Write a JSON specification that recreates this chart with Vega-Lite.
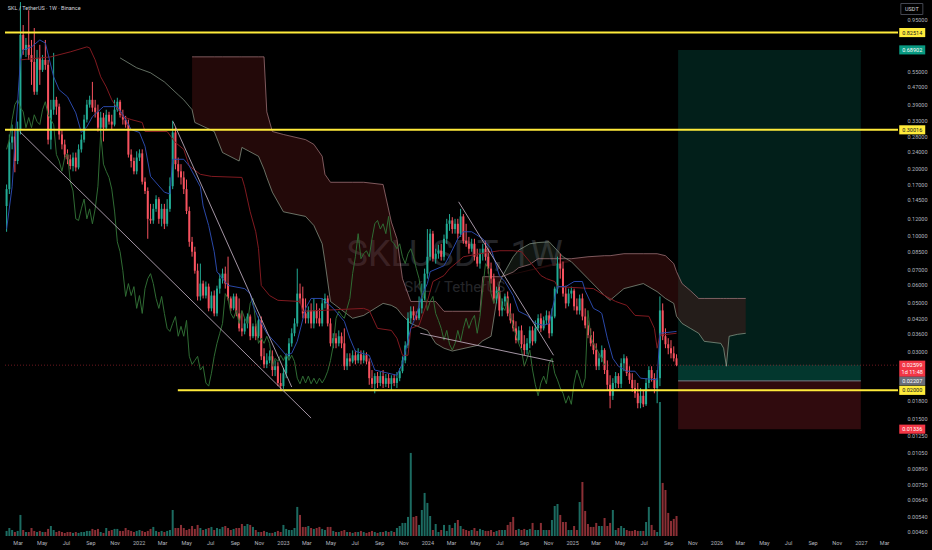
{
"$schema":"https://vega.github.io/schema/vega-lite/v6.json",
"width":903,"height":536,"autosize":{"type":"none"},
"padding":{"left":0,"top":0,"right":29,"bottom":14},
"background":"#000000",
"config":{"view":{"stroke":null},"font":"Roboto","axis":{"grid":false,"domain":false,"ticks":false,"labelColor":"#b2b5be","labelFontSize":5.5,"title":null}},
"datasets":{
"k":[
{"t":"2021-02-01","o":0.136,"h":0.17,"l":0.104,"c":0.162,"v":38,"ls":0.245},
{"t":"2021-02-08","o":0.162,"h":0.286,"l":0.154,"c":0.263,"v":60,"ls":0.271},
{"t":"2021-02-15","o":0.263,"h":0.317,"l":0.245,"c":0.28,"v":45,"ls":0.334},
{"t":"2021-02-22","o":0.28,"h":0.301,"l":0.193,"c":0.217,"v":30,"ls":0.39},
{"t":"2021-03-01","o":0.217,"h":0.327,"l":0.21,"c":0.301,"v":38,"ls":0.41},
{"t":"2021-03-08","o":0.301,"h":1.133,"l":0.286,"c":0.805,"v":158,"ls":0.378},
{"t":"2021-03-15","o":0.805,"h":0.892,"l":0.654,"c":0.689,"v":45,"ls":0.362},
{"t":"2021-03-22","o":0.689,"h":0.78,"l":0.64,"c":0.726,"v":30,"ls":0.307},
{"t":"2021-03-29","o":0.726,"h":1.04,"l":0.621,"c":0.654,"v":30,"ls":0.341},
{"t":"2021-04-05","o":0.654,"h":0.764,"l":0.479,"c":0.608,"v":60,"ls":0.307},
{"t":"2021-04-12","o":0.608,"h":0.865,"l":0.432,"c":0.446,"v":38,"ls":0.351},
{"t":"2021-04-19","o":0.446,"h":0.689,"l":0.432,"c":0.634,"v":30,"ls":0.327},
{"t":"2021-04-26","o":0.634,"h":0.726,"l":0.479,"c":0.56,"v":38,"ls":0.317},
{"t":"2021-05-03","o":0.56,"h":0.654,"l":0.548,"c":0.621,"v":30,"ls":0.37},
{"t":"2021-05-10","o":0.621,"h":0.764,"l":0.56,"c":0.59,"v":30,"ls":0.402},
{"t":"2021-05-17","o":0.59,"h":0.621,"l":0.258,"c":0.271,"v":53,"ls":0.351},
{"t":"2021-05-24","o":0.271,"h":0.41,"l":0.245,"c":0.37,"v":75,"ls":0.334},
{"t":"2021-05-31","o":0.37,"h":0.668,"l":0.351,"c":0.41,"v":45,"ls":0.317},
{"t":"2021-06-07","o":0.41,"h":0.423,"l":0.351,"c":0.382,"v":30,"ls":0.232},
{"t":"2021-06-14","o":0.382,"h":0.394,"l":0.271,"c":0.286,"v":38,"ls":0.217},
{"t":"2021-06-21","o":0.286,"h":0.301,"l":0.245,"c":0.258,"v":30,"ls":0.195},
{"t":"2021-06-28","o":0.258,"h":0.271,"l":0.221,"c":0.232,"v":23,"ls":0.225},
{"t":"2021-07-05","o":0.232,"h":0.245,"l":0.21,"c":0.221,"v":30,"ls":0.235},
{"t":"2021-07-12","o":0.221,"h":0.232,"l":0.199,"c":0.206,"v":30,"ls":0.175},
{"t":"2021-07-19","o":0.206,"h":0.237,"l":0.195,"c":0.225,"v":23,"ls":0.159},
{"t":"2021-07-26","o":0.225,"h":0.237,"l":0.195,"c":0.203,"v":30,"ls":0.119},
{"t":"2021-08-02","o":0.203,"h":0.258,"l":0.199,"c":0.245,"v":23,"ls":0.117},
{"t":"2021-08-09","o":0.245,"h":0.286,"l":0.237,"c":0.271,"v":30,"ls":0.132},
{"t":"2021-08-16","o":0.271,"h":0.351,"l":0.263,"c":0.334,"v":30,"ls":0.146},
{"t":"2021-08-23","o":0.334,"h":0.41,"l":0.324,"c":0.39,"v":38,"ls":0.119},
{"t":"2021-08-30","o":0.39,"h":0.428,"l":0.378,"c":0.41,"v":38,"ls":0.132},
{"t":"2021-09-06","o":0.41,"h":0.494,"l":0.362,"c":0.378,"v":53,"ls":0.113},
{"t":"2021-09-13","o":0.378,"h":0.41,"l":0.341,"c":0.362,"v":45,"ls":0.132},
{"t":"2021-09-20","o":0.362,"h":0.39,"l":0.295,"c":0.307,"v":53,"ls":0.167},
{"t":"2021-09-27","o":0.307,"h":0.362,"l":0.286,"c":0.341,"v":30,"ls":0.292},
{"t":"2021-10-04","o":0.341,"h":0.358,"l":0.266,"c":0.307,"v":23,"ls":0.21},
{"t":"2021-10-11","o":0.307,"h":0.37,"l":0.301,"c":0.351,"v":60,"ls":0.195},
{"t":"2021-10-18","o":0.351,"h":0.362,"l":0.317,"c":0.327,"v":38,"ls":0.183},
{"t":"2021-10-25","o":0.327,"h":0.351,"l":0.301,"c":0.317,"v":45,"ls":0.162},
{"t":"2021-11-01","o":0.317,"h":0.41,"l":0.311,"c":0.37,"v":53,"ls":0.129},
{"t":"2021-11-08","o":0.37,"h":0.419,"l":0.362,"c":0.402,"v":53,"ls":0.0937},
{"t":"2021-11-15","o":0.402,"h":0.41,"l":0.341,"c":0.351,"v":38,"ls":0.0845},
{"t":"2021-11-22","o":0.351,"h":0.37,"l":0.317,"c":0.334,"v":38,"ls":0.0694},
{"t":"2021-11-29","o":0.334,"h":0.347,"l":0.307,"c":0.317,"v":60,"ls":0.0531},
{"t":"2021-12-06","o":0.317,"h":0.334,"l":0.225,"c":0.232,"v":45,"ls":0.0607},
{"t":"2021-12-13","o":0.232,"h":0.245,"l":0.203,"c":0.217,"v":38,"ls":0.0536},
{"t":"2021-12-20","o":0.217,"h":0.225,"l":0.189,"c":0.195,"v":30,"ls":0.0588},
{"t":"2021-12-27","o":0.195,"h":0.24,"l":0.189,"c":0.225,"v":38,"ls":0.0469},
{"t":"2022-01-03","o":0.225,"h":0.245,"l":0.217,"c":0.235,"v":45,"ls":0.0536},
{"t":"2022-01-10","o":0.235,"h":0.245,"l":0.17,"c":0.175,"v":38,"ls":0.0445},
{"t":"2022-01-17","o":0.175,"h":0.183,"l":0.154,"c":0.159,"v":30,"ls":0.0576},
{"t":"2022-01-24","o":0.159,"h":0.165,"l":0.0967,"c":0.119,"v":38,"ls":0.0639},
{"t":"2022-01-31","o":0.119,"h":0.139,"l":0.113,"c":0.117,"v":53,"ls":0.0673},
{"t":"2022-02-07","o":0.117,"h":0.139,"l":0.113,"c":0.132,"v":68,"ls":0.0607},
{"t":"2022-02-14","o":0.132,"h":0.152,"l":0.128,"c":0.146,"v":38,"ls":0.052},
{"t":"2022-02-21","o":0.146,"h":0.149,"l":0.113,"c":0.119,"v":30,"ls":0.0469},
{"t":"2022-02-28","o":0.119,"h":0.139,"l":0.11,"c":0.132,"v":38,"ls":0.0531},
{"t":"2022-03-07","o":0.132,"h":0.139,"l":0.107,"c":0.113,"v":30,"ls":0.0445},
{"t":"2022-03-14","o":0.113,"h":0.146,"l":0.11,"c":0.132,"v":38,"ls":0.0381},
{"t":"2022-03-21","o":0.132,"h":0.183,"l":0.128,"c":0.167,"v":45,"ls":0.0369},
{"t":"2022-03-28","o":0.167,"h":0.33,"l":0.162,"c":0.292,"v":195,"ls":0.0401},
{"t":"2022-04-04","o":0.292,"h":0.307,"l":0.199,"c":0.21,"v":60,"ls":0.0431},
{"t":"2022-04-11","o":0.21,"h":0.225,"l":0.183,"c":0.195,"v":60,"ls":0.0351},
{"t":"2022-04-18","o":0.195,"h":0.21,"l":0.17,"c":0.183,"v":83,"ls":0.0389},
{"t":"2022-04-25","o":0.183,"h":0.195,"l":0.154,"c":0.162,"v":60,"ls":0.0351},
{"t":"2022-05-02","o":0.162,"h":0.179,"l":0.125,"c":0.129,"v":45,"ls":0.0414},
{"t":"2022-05-09","o":0.129,"h":0.135,"l":0.089,"c":0.0937,"v":53,"ls":0.0285},
{"t":"2022-05-16","o":0.0937,"h":0.0986,"l":0.0803,"c":0.0845,"v":75,"ls":0.0262},
{"t":"2022-05-23","o":0.0845,"h":0.089,"l":0.0673,"c":0.0694,"v":53,"ls":0.0273},
{"t":"2022-05-30","o":0.0694,"h":0.0747,"l":0.0509,"c":0.0531,"v":83,"ls":0.0285},
{"t":"2022-06-06","o":0.0531,"h":0.0747,"l":0.0509,"c":0.0607,"v":60,"ls":0.0247},
{"t":"2022-06-13","o":0.0607,"h":0.0626,"l":0.052,"c":0.0536,"v":45,"ls":0.0257},
{"t":"2022-06-20","o":0.0536,"h":0.062,"l":0.052,"c":0.0588,"v":53,"ls":0.0216},
{"t":"2022-06-27","o":0.0588,"h":0.0607,"l":0.0455,"c":0.0469,"v":60,"ls":0.0209},
{"t":"2022-07-04","o":0.0469,"h":0.0559,"l":0.0455,"c":0.0536,"v":68,"ls":0.0239},
{"t":"2022-07-11","o":0.0536,"h":0.0565,"l":0.0432,"c":0.0445,"v":45,"ls":0.0285},
{"t":"2022-07-18","o":0.0445,"h":0.0594,"l":0.0432,"c":0.0576,"v":60,"ls":0.0326},
{"t":"2022-07-25","o":0.0576,"h":0.0673,"l":0.0547,"c":0.0639,"v":53,"ls":0.0362},
{"t":"2022-08-01","o":0.0639,"h":0.0709,"l":0.0607,"c":0.0673,"v":68,"ls":0.0401},
{"t":"2022-08-08","o":0.0673,"h":0.0724,"l":0.0576,"c":0.0607,"v":75,"ls":0.0547},
{"t":"2022-08-15","o":0.0607,"h":0.0803,"l":0.0509,"c":0.052,"v":60,"ls":0.052},
{"t":"2022-08-22","o":0.052,"h":0.0531,"l":0.0455,"c":0.0469,"v":45,"ls":0.0445},
{"t":"2022-08-29","o":0.0469,"h":0.0547,"l":0.046,"c":0.0531,"v":53,"ls":0.0423},
{"t":"2022-09-05","o":0.0531,"h":0.0547,"l":0.0432,"c":0.0445,"v":60,"ls":0.0459},
{"t":"2022-09-12","o":0.0445,"h":0.052,"l":0.0369,"c":0.0381,"v":60,"ls":0.0401},
{"t":"2022-09-19","o":0.0381,"h":0.0454,"l":0.0351,"c":0.0369,"v":90,"ls":0.0459},
{"t":"2022-09-26","o":0.0369,"h":0.0423,"l":0.0358,"c":0.0401,"v":75,"ls":0.0423},
{"t":"2022-10-03","o":0.0401,"h":0.0445,"l":0.0381,"c":0.0431,"v":90,"ls":0.0401},
{"t":"2022-10-10","o":0.0431,"h":0.044,"l":0.0337,"c":0.0351,"v":83,"ls":0.0494},
{"t":"2022-10-17","o":0.0351,"h":0.0401,"l":0.0344,"c":0.0389,"v":68,"ls":0.052},
{"t":"2022-10-24","o":0.0389,"h":0.0401,"l":0.0337,"c":0.0351,"v":45,"ls":0.0401},
{"t":"2022-10-31","o":0.0351,"h":0.0431,"l":0.0344,"c":0.0414,"v":30,"ls":0.0326},
{"t":"2022-11-07","o":0.0414,"h":0.0431,"l":0.0274,"c":0.0285,"v":30,"ls":0.0344},
{"t":"2022-11-14","o":0.0285,"h":0.031,"l":0.0252,"c":0.0262,"v":38,"ls":0.0326},
{"t":"2022-11-21","o":0.0262,"h":0.0294,"l":0.0252,"c":0.0273,"v":30,"ls":0.0351},
{"t":"2022-11-28","o":0.0273,"h":0.0303,"l":0.0265,"c":0.0285,"v":23,"ls":0.0326},
{"t":"2022-12-05","o":0.0285,"h":0.0303,"l":0.0232,"c":0.0247,"v":23,"ls":0.0257},
{"t":"2022-12-12","o":0.0247,"h":0.0273,"l":0.0232,"c":0.0257,"v":30,"ls":0.0279},
{"t":"2022-12-19","o":0.0257,"h":0.0268,"l":0.0209,"c":0.0216,"v":38,"ls":0.027},
{"t":"2022-12-26","o":0.0216,"h":0.0239,"l":0.0201,"c":0.0209,"v":30,"ls":0.0288},
{"t":"2023-01-02","o":0.0209,"h":0.0252,"l":0.0203,"c":0.0239,"v":83,"ls":0.0273},
{"t":"2023-01-09","o":0.0239,"h":0.0294,"l":0.0227,"c":0.0285,"v":53,"ls":0.0291},
{"t":"2023-01-16","o":0.0285,"h":0.0344,"l":0.0274,"c":0.0326,"v":45,"ls":0.0273},
{"t":"2023-01-23","o":0.0326,"h":0.0381,"l":0.0315,"c":0.0362,"v":45,"ls":0.0288},
{"t":"2023-01-30","o":0.0362,"h":0.0423,"l":0.0351,"c":0.0401,"v":60,"ls":0.027},
{"t":"2023-02-06","o":0.0401,"h":0.0709,"l":0.0388,"c":0.0547,"v":218,"ls":0.0227},
{"t":"2023-02-13","o":0.0547,"h":0.0607,"l":0.0494,"c":0.052,"v":158,"ls":0.0214},
{"t":"2023-02-20","o":0.052,"h":0.0588,"l":0.0423,"c":0.0445,"v":68,"ls":0.0232},
{"t":"2023-02-27","o":0.0445,"h":0.052,"l":0.0401,"c":0.0423,"v":68,"ls":0.0216},
{"t":"2023-03-06","o":0.0423,"h":0.0479,"l":0.0401,"c":0.0459,"v":75,"ls":0.0232},
{"t":"2023-03-13","o":0.0459,"h":0.0494,"l":0.0381,"c":0.0401,"v":60,"ls":0.0214},
{"t":"2023-03-20","o":0.0401,"h":0.052,"l":0.0381,"c":0.0459,"v":53,"ls":0.0227},
{"t":"2023-03-27","o":0.0459,"h":0.0494,"l":0.0401,"c":0.0423,"v":60,"ls":0.0214},
{"t":"2023-04-03","o":0.0423,"h":0.0469,"l":0.0389,"c":0.0401,"v":68,"ls":0.0227},
{"t":"2023-04-10","o":0.0401,"h":0.052,"l":0.0389,"c":0.0494,"v":53,"ls":0.0216},
{"t":"2023-04-17","o":0.0494,"h":0.0547,"l":0.0469,"c":0.052,"v":45,"ls":0.0227},
{"t":"2023-04-24","o":0.052,"h":0.0536,"l":0.0389,"c":0.0401,"v":68,"ls":0.0244},
{"t":"2023-05-01","o":0.0401,"h":0.0423,"l":0.0316,"c":0.0326,"v":68,"ls":0.0273},
{"t":"2023-05-08","o":0.0326,"h":0.0362,"l":0.031,"c":0.0344,"v":38,"ls":0.0319},
{"t":"2023-05-15","o":0.0344,"h":0.0362,"l":0.031,"c":0.0326,"v":30,"ls":0.0423},
{"t":"2023-05-22","o":0.0326,"h":0.0373,"l":0.0316,"c":0.0351,"v":30,"ls":0.0455},
{"t":"2023-05-29","o":0.0351,"h":0.0365,"l":0.031,"c":0.0326,"v":38,"ls":0.0436},
{"t":"2023-06-05","o":0.0326,"h":0.0381,"l":0.0247,"c":0.0257,"v":45,"ls":0.0423},
{"t":"2023-06-12","o":0.0257,"h":0.0294,"l":0.0247,"c":0.0279,"v":30,"ls":0.0469},
{"t":"2023-06-19","o":0.0279,"h":0.0294,"l":0.0257,"c":0.027,"v":30,"ls":0.052},
{"t":"2023-06-26","o":0.027,"h":0.0303,"l":0.0265,"c":0.0288,"v":23,"ls":0.0673},
{"t":"2023-07-03","o":0.0288,"h":0.0303,"l":0.0262,"c":0.0273,"v":30,"ls":0.0802},
{"t":"2023-07-10","o":0.0273,"h":0.031,"l":0.0265,"c":0.0291,"v":30,"ls":0.102},
{"t":"2023-07-17","o":0.0291,"h":0.0303,"l":0.0262,"c":0.0273,"v":38,"ls":0.0786},
{"t":"2023-07-24","o":0.0273,"h":0.0303,"l":0.0265,"c":0.0288,"v":30,"ls":0.0828},
{"t":"2023-07-31","o":0.0288,"h":0.0297,"l":0.0262,"c":0.027,"v":23,"ls":0.0854},
{"t":"2023-08-07","o":0.027,"h":0.0279,"l":0.0212,"c":0.0227,"v":30,"ls":0.0802},
{"t":"2023-08-14","o":0.0227,"h":0.0247,"l":0.0205,"c":0.0214,"v":38,"ls":0.0967},
{"t":"2023-08-21","o":0.0214,"h":0.0239,"l":0.0194,"c":0.0232,"v":30,"ls":0.113},
{"t":"2023-08-28","o":0.0232,"h":0.0242,"l":0.0205,"c":0.0216,"v":23,"ls":0.117},
{"t":"2023-09-04","o":0.0216,"h":0.0242,"l":0.0209,"c":0.0232,"v":30,"ls":0.107},
{"t":"2023-09-11","o":0.0232,"h":0.0247,"l":0.0205,"c":0.0214,"v":30,"ls":0.113},
{"t":"2023-09-18","o":0.0214,"h":0.0237,"l":0.0207,"c":0.0227,"v":38,"ls":0.102},
{"t":"2023-09-25","o":0.0227,"h":0.0237,"l":0.0205,"c":0.0214,"v":30,"ls":0.122},
{"t":"2023-10-02","o":0.0214,"h":0.0234,"l":0.0201,"c":0.0227,"v":38,"ls":0.0947},
{"t":"2023-10-09","o":0.0227,"h":0.0237,"l":0.0209,"c":0.0216,"v":30,"ls":0.0918},
{"t":"2023-10-16","o":0.0216,"h":0.0242,"l":0.0205,"c":0.0227,"v":60,"ls":0.0872},
{"t":"2023-10-23","o":0.0227,"h":0.0252,"l":0.022,"c":0.0244,"v":75,"ls":0.0918},
{"t":"2023-10-30","o":0.0244,"h":0.0285,"l":0.0239,"c":0.0273,"v":98,"ls":0.0802},
{"t":"2023-11-06","o":0.0273,"h":0.0333,"l":0.0265,"c":0.0319,"v":98,"ls":0.0747},
{"t":"2023-11-13","o":0.0319,"h":0.045,"l":0.031,"c":0.0423,"v":143,"ls":0.0828},
{"t":"2023-11-20","o":0.0423,"h":0.0479,"l":0.0401,"c":0.0455,"v":623,"ls":0.0872},
{"t":"2023-11-27","o":0.0455,"h":0.0479,"l":0.0415,"c":0.0436,"v":143,"ls":0.0802},
{"t":"2023-12-04","o":0.0436,"h":0.0455,"l":0.0415,"c":0.0423,"v":150,"ls":0.0709},
{"t":"2023-12-11","o":0.0423,"h":0.0531,"l":0.0415,"c":0.0469,"v":83,"ls":0.0639},
{"t":"2023-12-18","o":0.0469,"h":0.0607,"l":0.0445,"c":0.052,"v":195,"ls":0.052},
{"t":"2023-12-25","o":0.052,"h":0.0709,"l":0.0509,"c":0.0673,"v":323,"ls":0.0564},
{"t":"2024-01-01","o":0.0673,"h":0.107,"l":0.0639,"c":0.0802,"v":248,"ls":0.0459},
{"t":"2024-01-08","o":0.0802,"h":0.107,"l":0.0771,"c":0.102,"v":150,"ls":0.0504},
{"t":"2024-01-15","o":0.102,"h":0.105,"l":0.0763,"c":0.0786,"v":45,"ls":0.0531},
{"t":"2024-01-22","o":0.0786,"h":0.0872,"l":0.0747,"c":0.0828,"v":90,"ls":0.0445},
{"t":"2024-01-29","o":0.0828,"h":0.0908,"l":0.0786,"c":0.0854,"v":30,"ls":0.0414},
{"t":"2024-02-05","o":0.0854,"h":0.0918,"l":0.0771,"c":0.0802,"v":45,"ls":0.0381},
{"t":"2024-02-12","o":0.0802,"h":0.101,"l":0.0771,"c":0.0967,"v":83,"ls":0.0337},
{"t":"2024-02-19","o":0.0967,"h":0.119,"l":0.0918,"c":0.113,"v":38,"ls":0.0373},
{"t":"2024-02-26","o":0.113,"h":0.125,"l":0.105,"c":0.117,"v":83,"ls":0.0323},
{"t":"2024-03-04","o":0.117,"h":0.121,"l":0.102,"c":0.107,"v":60,"ls":0.0304},
{"t":"2024-03-11","o":0.107,"h":0.119,"l":0.102,"c":0.113,"v":98,"ls":0.0326},
{"t":"2024-03-18","o":0.113,"h":0.119,"l":0.0967,"c":0.102,"v":120,"ls":0.0373},
{"t":"2024-03-25","o":0.102,"h":0.132,"l":0.0986,"c":0.122,"v":75,"ls":0.0333},
{"t":"2024-04-01","o":0.122,"h":0.125,"l":0.0918,"c":0.0947,"v":53,"ls":0.0381},
{"t":"2024-04-08","o":0.0947,"h":0.113,"l":0.089,"c":0.0918,"v":45,"ls":0.0423},
{"t":"2024-04-15","o":0.0918,"h":0.0986,"l":0.0828,"c":0.0872,"v":38,"ls":0.0381},
{"t":"2024-04-22","o":0.0872,"h":0.0967,"l":0.0845,"c":0.0918,"v":45,"ls":0.0414},
{"t":"2024-04-29","o":0.0918,"h":0.0967,"l":0.0771,"c":0.0802,"v":60,"ls":0.0436},
{"t":"2024-05-06","o":0.0802,"h":0.0872,"l":0.0724,"c":0.0747,"v":38,"ls":0.0362},
{"t":"2024-05-13","o":0.0747,"h":0.0872,"l":0.0709,"c":0.0828,"v":53,"ls":0.0431},
{"t":"2024-05-20","o":0.0828,"h":0.0918,"l":0.0771,"c":0.0872,"v":45,"ls":0.0576},
{"t":"2024-05-27","o":0.0872,"h":0.0947,"l":0.0771,"c":0.0802,"v":38,"ls":0.0747},
{"t":"2024-06-03","o":0.0802,"h":0.0872,"l":0.0673,"c":0.0709,"v":38,"ls":0.0709},
{"t":"2024-06-10","o":0.0709,"h":0.0755,"l":0.0607,"c":0.0639,"v":45,"ls":0.0547},
{"t":"2024-06-17","o":0.0639,"h":0.0673,"l":0.0494,"c":0.052,"v":30,"ls":0.0494},
{"t":"2024-06-24","o":0.052,"h":0.0588,"l":0.0494,"c":0.0564,"v":38,"ls":0.0547},
{"t":"2024-07-01","o":0.0564,"h":0.0588,"l":0.0432,"c":0.0459,"v":45,"ls":0.0564},
{"t":"2024-07-08","o":0.0459,"h":0.052,"l":0.0432,"c":0.0504,"v":45,"ls":0.0479},
{"t":"2024-07-15","o":0.0504,"h":0.0547,"l":0.0479,"c":0.0531,"v":45,"ls":0.0459},
{"t":"2024-07-22","o":0.0531,"h":0.0559,"l":0.0432,"c":0.0445,"v":83,"ls":0.052},
{"t":"2024-07-29","o":0.0445,"h":0.0494,"l":0.0401,"c":0.0414,"v":105,"ls":0.0431},
{"t":"2024-08-05","o":0.0414,"h":0.0445,"l":0.0369,"c":0.0381,"v":143,"ls":0.0393},
{"t":"2024-08-12","o":0.0381,"h":0.041,"l":0.0326,"c":0.0337,"v":45,"ls":0.0355},
{"t":"2024-08-19","o":0.0337,"h":0.0389,"l":0.0326,"c":0.0373,"v":53,"ls":0.0326},
{"t":"2024-08-26","o":0.0373,"h":0.0393,"l":0.031,"c":0.0323,"v":45,"ls":0.0304},
{"t":"2024-09-02","o":0.0323,"h":0.0355,"l":0.0288,"c":0.0304,"v":53,"ls":0.0257},
{"t":"2024-09-09","o":0.0304,"h":0.0344,"l":0.0291,"c":0.0326,"v":45,"ls":0.0279},
{"t":"2024-09-16","o":0.0326,"h":0.0389,"l":0.031,"c":0.0373,"v":53,"ls":0.0304},
{"t":"2024-09-23","o":0.0373,"h":0.0389,"l":0.0319,"c":0.0333,"v":98,"ls":0.0247},
{"t":"2024-09-30","o":0.0333,"h":0.0414,"l":0.0326,"c":0.0381,"v":45,"ls":0.0212},
{"t":"2024-10-07","o":0.0381,"h":0.0441,"l":0.0373,"c":0.0423,"v":45,"ls":0.0189},
{"t":"2024-10-14","o":0.0423,"h":0.0445,"l":0.0366,"c":0.0381,"v":98,"ls":0.0216},
{"t":"2024-10-21","o":0.0381,"h":0.0431,"l":0.0373,"c":0.0414,"v":45,"ls":0.0232},
{"t":"2024-10-28","o":0.0414,"h":0.0459,"l":0.0397,"c":0.0436,"v":45,"ls":0.0214},
{"t":"2024-11-04","o":0.0436,"h":0.0455,"l":0.0344,"c":0.0362,"v":45,"ls":0.0265},
{"t":"2024-11-11","o":0.0362,"h":0.0469,"l":0.0351,"c":0.0431,"v":120,"ls":0.0279},
{"t":"2024-11-18","o":0.0431,"h":0.0588,"l":0.0423,"c":0.0576,"v":225,"ls":0.0239},
{"t":"2024-11-25","o":0.0576,"h":0.0803,"l":0.0547,"c":0.0747,"v":240,"ls":0.0223},
{"t":"2024-12-02","o":0.0747,"h":0.0828,"l":0.0639,"c":0.0709,"v":158,"ls":0.0205},
{"t":"2024-12-09","o":0.0709,"h":0.0763,"l":0.053,"c":0.0547,"v":105,"ls":0.0194},
{"t":"2024-12-16","o":0.0547,"h":0.0594,"l":0.0469,"c":0.0494,"v":105,"ls":0.0175},
{"t":"2024-12-23","o":0.0494,"h":0.0576,"l":0.0479,"c":0.0547,"v":45,"ls":0.0189},
{"t":"2024-12-30","o":0.0547,"h":0.0588,"l":0.052,"c":0.0564,"v":45,"ls":0.0173},
{"t":"2025-01-06","o":0.0564,"h":0.0576,"l":0.0459,"c":0.0479,"v":75,"ls":0.0216},
{"t":"2025-01-13","o":0.0479,"h":0.052,"l":0.044,"c":0.0459,"v":45,"ls":0.0247},
{"t":"2025-01-20","o":0.0459,"h":0.0541,"l":0.044,"c":0.052,"v":255,"ls":0.0227},
{"t":"2025-01-27","o":0.052,"h":0.0547,"l":0.0414,"c":0.0431,"v":405,"ls":0.0205},
{"t":"2025-02-03","o":0.0431,"h":0.0469,"l":0.0381,"c":0.0393,"v":188,"ls":0.0227},
{"t":"2025-02-10","o":0.0393,"h":0.0414,"l":0.0344,"c":0.0355,"v":90,"ls":0.0459},
{"t":"2025-02-17","o":0.0355,"h":0.0381,"l":0.0316,"c":0.0326,"v":68,"ls":0.0351},
{"t":"2025-02-24","o":0.0326,"h":0.0369,"l":0.0291,"c":0.0304,"v":68,"ls":0.0323},
{"t":"2025-03-03","o":0.0304,"h":0.0326,"l":0.0247,"c":0.0257,"v":98,"ls":0.031},
{"t":"2025-03-10","o":0.0257,"h":0.0294,"l":0.0247,"c":0.0279,"v":75,"ls":0.0294},
{"t":"2025-03-17","o":0.0279,"h":0.0319,"l":0.0268,"c":0.0304,"v":75,"ls":0.0279},
{"t":"2025-03-24","o":0.0304,"h":0.031,"l":0.0237,"c":0.0247,"v":135,"ls":0.026},
{"t":"2025-03-31","o":0.0247,"h":0.0273,"l":0.0201,"c":0.0212,"v":75},
{"t":"2025-04-07","o":0.0212,"h":0.0234,"l":0.0166,"c":0.0189,"v":98},
{"t":"2025-04-14","o":0.0189,"h":0.0227,"l":0.0181,"c":0.0216,"v":195},
{"t":"2025-04-21","o":0.0216,"h":0.0242,"l":0.0205,"c":0.0232,"v":45},
{"t":"2025-04-28","o":0.0232,"h":0.0239,"l":0.0205,"c":0.0214,"v":60},
{"t":"2025-05-05","o":0.0214,"h":0.0279,"l":0.0205,"c":0.0265,"v":75},
{"t":"2025-05-12","o":0.0265,"h":0.0291,"l":0.0244,"c":0.0279,"v":60},
{"t":"2025-05-19","o":0.0279,"h":0.0285,"l":0.0232,"c":0.0239,"v":45},
{"t":"2025-05-26","o":0.0239,"h":0.0257,"l":0.0214,"c":0.0223,"v":38},
{"t":"2025-06-02","o":0.0223,"h":0.0239,"l":0.0197,"c":0.0205,"v":38},
{"t":"2025-06-09","o":0.0205,"h":0.0223,"l":0.0185,"c":0.0194,"v":45},
{"t":"2025-06-16","o":0.0194,"h":0.0216,"l":0.0166,"c":0.0175,"v":38},
{"t":"2025-06-23","o":0.0175,"h":0.0205,"l":0.0166,"c":0.0189,"v":38},
{"t":"2025-06-30","o":0.0189,"h":0.0201,"l":0.0168,"c":0.0173,"v":38},
{"t":"2025-07-07","o":0.0173,"h":0.0227,"l":0.017,"c":0.0216,"v":105},
{"t":"2025-07-14","o":0.0216,"h":0.0257,"l":0.0205,"c":0.0247,"v":218},
{"t":"2025-07-21","o":0.0247,"h":0.0257,"l":0.0219,"c":0.0227,"v":83},
{"t":"2025-07-28","o":0.0227,"h":0.0239,"l":0.0194,"c":0.0205,"v":45},
{"t":"2025-08-04","o":0.0205,"h":0.0247,"l":0.0175,"c":0.0227,"v":30},
{"t":"2025-08-11","o":0.0227,"h":0.0531,"l":0.0209,"c":0.0459,"v":1005},
{"t":"2025-08-18","o":0.0459,"h":0.0494,"l":0.0337,"c":0.0351,"v":398},
{"t":"2025-08-25","o":0.0351,"h":0.0381,"l":0.031,"c":0.0323,"v":345},
{"t":"2025-09-01","o":0.0323,"h":0.0344,"l":0.0291,"c":0.031,"v":173},
{"t":"2025-09-08","o":0.031,"h":0.0337,"l":0.0279,"c":0.0294,"v":113},
{"t":"2025-09-15","o":0.0294,"h":0.0316,"l":0.027,"c":0.0279,"v":128},
{"t":"2025-09-22","o":0.0279,"h":0.0291,"l":0.0257,"c":0.026,"v":150}
],
"cl":[
{"t":"2021-11-15","a":0.634},{"t":"2021-12-27","a":0.572},{"t":"2022-01-31","a":0.543},{"t":"2022-03-07","a":0.494},{"t":"2022-04-11","a":0.432},{"t":"2022-04-25","a":0.41},
{"t":"2022-05-16","a":0.37,"b":0.641},{"t":"2022-05-23","a":0.324,"b":0.641},{"t":"2022-07-11","a":0.295,"b":0.641},{"t":"2022-08-01","a":0.237,"b":0.641},{"t":"2022-09-12","a":0.217,"b":0.641},{"t":"2022-09-19","a":0.25,"b":0.641},{"t":"2022-10-31","a":0.228,"b":0.641},{"t":"2022-11-14","a":0.199,"b":0.641},{"t":"2022-11-21","a":0.183,"b":0.362},{"t":"2022-12-05","a":0.157,"b":0.295},
{"t":"2023-01-02","a":0.128,"b":0.286},{"t":"2023-02-27","a":0.122,"b":0.271},{"t":"2023-03-20","a":0.111,"b":0.258},{"t":"2023-04-10","a":0.0918,"b":0.228},{"t":"2023-04-17","a":0.0762,"b":0.189},{"t":"2023-05-01","a":0.0504,"b":0.174},{"t":"2023-06-26","a":0.0423,"b":0.174},{"t":"2023-07-24","a":0.0436,"b":0.174},{"t":"2023-09-11","a":0.0494,"b":0.17},{"t":"2023-10-02","a":0.0484,"b":0.115},{"t":"2023-10-16","a":0.0469,"b":0.0967},{"t":"2023-10-30","a":0.0436,"b":0.0639},{"t":"2023-11-20","a":0.0401,"b":0.0504},
{"t":"2024-01-01","a":0.0373,"b":0.0504},{"t":"2024-01-22","a":0.0326,"b":0.0504},{"t":"2024-02-12","a":0.031,"b":0.0455},{"t":"2024-03-04","a":0.0301,"b":0.0455},{"t":"2024-05-06","a":0.0319,"b":0.0455},{"t":"2024-05-13","a":0.0326,"b":0.0455},{"t":"2024-05-20","a":0.0335,"b":0.0652},{"t":"2024-06-10","a":0.0351,"b":0.0652},{"t":"2024-07-01","a":0.0607,"b":0.0652},{"t":"2024-07-08","a":0.0652,"b":0.0652},{"t":"2024-08-05","a":0.0802,"b":0.0684},{"t":"2024-08-19","a":0.086,"b":0.0716},{"t":"2024-09-16","a":0.0918,"b":0.074},{"t":"2024-10-07","a":0.093,"b":0.0786},{"t":"2024-11-04","a":0.0937,"b":0.0786},{"t":"2024-11-25","a":0.0854,"b":0.0786},{"t":"2024-12-09","a":0.0802,"b":0.0786},{"t":"2024-12-30","a":0.0762,"b":0.0786},
{"t":"2025-02-10","a":0.0639,"b":0.0802},{"t":"2025-03-24","a":0.0536,"b":0.0811},{"t":"2025-04-07","a":0.051,"b":0.0811},{"t":"2025-05-12","a":0.0576,"b":0.0828},{"t":"2025-06-30","a":0.0607,"b":0.0828},{"t":"2025-08-04","a":0.0558,"b":0.0828},{"t":"2025-08-25","a":0.052,"b":0.0811},{"t":"2025-09-15","a":0.0494,"b":0.0747},{"t":"2025-09-22","a":0.0432,"b":0.0687},{"t":"2025-10-06","a":0.0401,"b":0.0607},{"t":"2025-10-27","a":0.0381,"b":0.0564},{"t":"2025-11-17","a":0.0362,"b":0.052},{"t":"2025-12-01","a":0.0333,"b":0.052},
{"t":"2026-01-12","a":0.0326,"b":0.052},{"t":"2026-01-19","a":0.031,"b":0.052},{"t":"2026-01-26","a":0.0257,"b":0.052},{"t":"2026-02-02","a":0.0351,"b":0.052},{"t":"2026-02-23","a":0.0358,"b":0.052},{"t":"2026-03-16","a":0.0362,"b":0.052}
],
"cv":[
{"t":"2021-02-01","p":0.107},{"t":"2021-02-15","p":0.166},{"t":"2021-03-08","p":0.621},{"t":"2021-03-15","p":0.689},{"t":"2021-04-05","p":0.711},{"t":"2021-04-26","p":0.764},{"t":"2021-05-10","p":0.74},{"t":"2021-05-31","p":0.521},{"t":"2021-06-14","p":0.455},{"t":"2021-07-05","p":0.423},{"t":"2021-07-26","p":0.358},{"t":"2021-08-09","p":0.292},{"t":"2021-08-23","p":0.31},{"t":"2021-09-06","p":0.344},{"t":"2021-10-04","p":0.382},{"t":"2021-11-08","p":0.382},{"t":"2021-11-22","p":0.351},{"t":"2021-12-13","p":0.301},
{"t":"2022-01-03","p":0.292},{"t":"2022-01-17","p":0.253},{"t":"2022-01-31","p":0.185},{"t":"2022-03-07","p":0.157},{"t":"2022-03-21","p":0.154},{"t":"2022-03-28","p":0.221},{"t":"2022-04-25","p":0.221},{"t":"2022-05-09","p":0.206},{"t":"2022-06-06","p":0.166},{"t":"2022-06-13","p":0.136},{"t":"2022-06-27","p":0.111},{"t":"2022-07-11","p":0.0845},{"t":"2022-07-18","p":0.0687},{"t":"2022-08-01","p":0.0639},{"t":"2022-08-15","p":0.0595},{"t":"2022-09-26","p":0.0576},{"t":"2022-10-10","p":0.0547},{"t":"2022-10-17","p":0.0484},{"t":"2022-10-31","p":0.0423},{"t":"2022-11-21","p":0.0362},{"t":"2022-12-19","p":0.0319},
{"t":"2023-01-09","p":0.0288},{"t":"2023-01-23","p":0.0294},{"t":"2023-02-06","p":0.0333},{"t":"2023-02-27","p":0.0469},{"t":"2023-03-13","p":0.052},{"t":"2023-04-10","p":0.052},{"t":"2023-05-08","p":0.0469},{"t":"2023-06-05","p":0.041},{"t":"2023-06-19","p":0.0344},{"t":"2023-07-03","p":0.03},{"t":"2023-08-07","p":0.0288},{"t":"2023-08-21","p":0.0247},{"t":"2023-10-16","p":0.0234},{"t":"2023-10-30","p":0.0265},{"t":"2023-11-20","p":0.0381},{"t":"2023-12-04","p":0.0436},{"t":"2023-12-18","p":0.0536},
{"t":"2024-01-01","p":0.0607},{"t":"2024-01-08","p":0.0687},{"t":"2024-02-12","p":0.0731},{"t":"2024-02-26","p":0.0811},{"t":"2024-03-18","p":0.0967},{"t":"2024-04-01","p":0.104},{"t":"2024-04-22","p":0.104},{"t":"2024-05-20","p":0.0967},{"t":"2024-06-10","p":0.0872},{"t":"2024-07-01","p":0.066},{"t":"2024-07-15","p":0.062},{"t":"2024-08-05","p":0.0536},{"t":"2024-08-19","p":0.0455},{"t":"2024-09-09","p":0.0436},{"t":"2024-09-30","p":0.0401},{"t":"2024-10-21","p":0.0393},{"t":"2024-11-04","p":0.0401},{"t":"2024-11-18","p":0.052},{"t":"2024-11-25","p":0.0588},{"t":"2024-12-16","p":0.0588},
{"t":"2025-01-06","p":0.062},{"t":"2025-01-27","p":0.062},{"t":"2025-02-03","p":0.0564},{"t":"2025-02-24","p":0.0469},{"t":"2025-03-10","p":0.0455},{"t":"2025-03-17","p":0.0445},{"t":"2025-03-31","p":0.0344},{"t":"2025-04-14","p":0.0279},{"t":"2025-04-28","p":0.0257},{"t":"2025-05-19","p":0.0244},{"t":"2025-06-09","p":0.0244},{"t":"2025-06-23","p":0.0227},{"t":"2025-08-04","p":0.0223},{"t":"2025-08-11","p":0.0362},{"t":"2025-09-22","p":0.0369}
],
"bl":[
{"t":"2021-03-08","p":0.621},{"t":"2021-05-24","p":0.641},{"t":"2021-07-12","p":0.675},{"t":"2021-08-23","p":0.711},{"t":"2021-08-30","p":0.704},{"t":"2021-09-13","p":0.621},{"t":"2021-09-27","p":0.521},{"t":"2021-10-11","p":0.469},{"t":"2021-10-25","p":0.41},{"t":"2021-11-22","p":0.344},{"t":"2021-12-13","p":0.334},
{"t":"2022-01-10","p":0.324},{"t":"2022-01-17","p":0.295},{"t":"2022-03-14","p":0.295},{"t":"2022-04-04","p":0.263},{"t":"2022-04-25","p":0.245},{"t":"2022-05-09","p":0.206},{"t":"2022-06-06","p":0.189},{"t":"2022-07-04","p":0.185},{"t":"2022-09-19","p":0.183},{"t":"2022-09-26","p":0.166},{"t":"2022-10-10","p":0.128},{"t":"2022-10-24","p":0.104},{"t":"2022-10-31","p":0.0872},{"t":"2022-11-07","p":0.0595},{"t":"2022-11-28","p":0.0536},{"t":"2022-12-19","p":0.051},
{"t":"2023-02-13","p":0.0504},{"t":"2023-02-20","p":0.0455},{"t":"2023-07-24","p":0.0469},{"t":"2023-08-07","p":0.0459},{"t":"2023-08-28","p":0.0381},{"t":"2023-10-02","p":0.0373},{"t":"2023-10-16","p":0.0344},{"t":"2023-10-30","p":0.0288},{"t":"2023-11-13","p":0.0288},{"t":"2023-11-20","p":0.0381},{"t":"2023-12-11","p":0.0393},
{"t":"2024-01-01","p":0.0504},{"t":"2024-01-15","p":0.062},{"t":"2024-02-12","p":0.066},{"t":"2024-02-26","p":0.0709},{"t":"2024-03-18","p":0.0762},{"t":"2024-04-01","p":0.0802},{"t":"2024-05-13","p":0.0828},{"t":"2024-07-01","p":0.0854},{"t":"2024-08-05","p":0.0854},{"t":"2024-08-26","p":0.0845},{"t":"2024-09-16","p":0.0762},{"t":"2024-10-14","p":0.066},{"t":"2024-10-28","p":0.0639},{"t":"2024-11-18","p":0.062},{"t":"2024-11-25","p":0.0588},
{"t":"2025-02-24","p":0.0576},{"t":"2025-03-24","p":0.0536},{"t":"2025-04-21","p":0.0504},{"t":"2025-05-19","p":0.0484},{"t":"2025-06-09","p":0.0436},{"t":"2025-07-14","p":0.0432},{"t":"2025-07-28","p":0.0381},{"t":"2025-08-04","p":0.031},{"t":"2025-08-11","p":0.0355},{"t":"2025-09-22","p":0.0362}
],
"tg":[
{"t":"2027-05-11","p":0.82514,"s":"0.82514","k":"y"},
{"t":"2027-05-11","p":0.68902,"s":"0.68902","k":"g"},
{"t":"2027-05-11","p":0.30016,"s":"0.30016","k":"y"},
{"t":"2027-05-11","p":0.02207,"s":"0.02207","k":"n"},
{"t":"2027-05-11","p":0.02,"s":"0.02000","k":"y"},
{"t":"2027-05-11","p":0.01336,"s":"0.01336","k":"r"}
]
},
"resolve":{"scale":{"y":"independent"}},
"layer":[
{"data":{"name":"k"},"mark":{"type":"bar","size":2},
 "encoding":{
  "x":{"field":"t","type":"temporal","scale":{"type":"utc","domain":[{"year":2021,"month":1,"date":28,"utc":true},{"year":2027,"month":4,"date":5,"utc":true}]},
       "axis":{"tickCount":{"interval":"month","step":2},"labelExpr":"utcFormat(datum.value, '%m') == '01' ? utcFormat(datum.value, '%Y') : utcFormat(datum.value, '%b')","labelOverlap":false,"labelFlush":false,"labelPadding":4,"labelFontSize":5.5,"labelColor":"#b2b5be"}},
  "y":{"field":"v","type":"quantitative","scale":{"domain":[0,4020],"nice":false},"axis":null},
  "color":{"condition":{"test":"datum.c >= datum.o","value":"#1c6b61"},"value":"#8a2f35"}
 }},
{"layer":[
 {"data":{"values":[{"t":"2024-03-10","p":0.0817,"s":"SKLUSDT, 1W"}]},
  "mark":{"type":"text","fontSize":36,"color":"#787b86","opacity":0.3,"align":"center","baseline":"middle"},
  "encoding":{"x":{"field":"t","type":"temporal"},
   "y":{"field":"p","type":"quantitative","scale":{"type":"log","domain":[0.0044,1.1575],"nice":false},
        "axis":{"orient":"right","values":[0.95,0.55,0.47,0.39,0.33,0.28,0.24,0.2,0.17,0.145,0.12,0.1,0.085,0.07,0.06,0.05,0.042,0.036,0.03,0.018,0.015,0.0125,0.0105,0.0089,0.0075,0.0064,0.0054,0.0046],"format":".5f","labelPadding":4,"labelBaseline":"middle","labelFontSize":5.5,"labelColor":"#b2b5be"}},
   "text":{"field":"s"}}},
 {"data":{"values":[{"t":"2024-03-10","p":0.0586,"s":"SKL / TetherUS"}]},
  "mark":{"type":"text","fontSize":15,"color":"#787b86","opacity":0.3,"align":"center","baseline":"middle"},
  "encoding":{"x":{"field":"t","type":"temporal"},"y":{"field":"p","type":"quantitative","scale":{"type":"log","domain":[0.0044,1.1575],"nice":false}},"text":{"field":"s"}}},
 {"data":{"values":[{"t1":"2025-09-26","t2":"2027-01-01","p1":0.02207,"p2":0.68902,"k":"tp"},{"t1":"2025-09-26","t2":"2027-01-01","p1":0.01336,"p2":0.02207,"k":"sl"},{"t1":"2025-09-26","t2":"2027-01-01","p1":0.02207,"p2":0.02599,"k":"cur"}]},
  "mark":{"type":"rect","opacity":0.2},
  "encoding":{"x":{"field":"t1","type":"temporal"},"x2":{"field":"t2"},"y":{"field":"p1","type":"quantitative","scale":{"type":"log","domain":[0.0044,1.1575],"nice":false}},"y2":{"field":"p2"},
   "color":{"condition":{"test":"datum.k == 'sl'","value":"#f23645"},"value":"#089981"}}},
 {"data":{"name":"cl"},"transform":[{"filter":"isValid(datum.b) && datum.b >= datum.a"}],"mark":{"type":"area","color":"#6b1a1a","opacity":0.33},
  "encoding":{"x":{"field":"t","type":"temporal"},"y":{"field":"a","type":"quantitative","scale":{"type":"log","domain":[0.0044,1.1575],"nice":false}},"y2":{"field":"b"}}},
 {"data":{"name":"cl"},"transform":[{"filter":"isValid(datum.b) && datum.a >= datum.b"}],"mark":{"type":"area","color":"#4f6b4f","opacity":0.2},
  "encoding":{"x":{"field":"t","type":"temporal"},"y":{"field":"a","type":"quantitative","scale":{"type":"log","domain":[0.0044,1.1575],"nice":false}},"y2":{"field":"b"}}},
 {"data":{"name":"cl"},"mark":{"type":"line","color":"#a3b8a3","strokeWidth":1,"opacity":0.6},
  "encoding":{"x":{"field":"t","type":"temporal"},"y":{"field":"a","type":"quantitative","scale":{"type":"log","domain":[0.0044,1.1575],"nice":false}}}},
 {"data":{"name":"cl"},"transform":[{"filter":"isValid(datum.b)"}],"mark":{"type":"line","color":"#b9868c","strokeWidth":1,"opacity":0.65},
  "encoding":{"x":{"field":"t","type":"temporal"},"y":{"field":"b","type":"quantitative","scale":{"type":"log","domain":[0.0044,1.1575],"nice":false}}}},
 {"data":{"name":"k"},"mark":{"type":"rule","strokeWidth":1},
  "encoding":{"x":{"field":"t","type":"temporal"},"y":{"field":"l","type":"quantitative","scale":{"type":"log","domain":[0.0044,1.1575],"nice":false}},"y2":{"field":"h"},
   "color":{"condition":{"test":"datum.c >= datum.o","value":"#22ab94"},"value":"#f7525f"}}},
 {"data":{"name":"k"},"mark":{"type":"bar","size":2},
  "encoding":{"x":{"field":"t","type":"temporal"},"y":{"field":"o","type":"quantitative","scale":{"type":"log","domain":[0.0044,1.1575],"nice":false}},"y2":{"field":"c"},
   "color":{"condition":{"test":"datum.c >= datum.o","value":"#22ab94"},"value":"#f7525f"}}},
 {"data":{"name":"k"},"transform":[{"filter":"isValid(datum.ls)"}],"mark":{"type":"line","color":"#2f6b33","strokeWidth":1},
  "encoding":{"x":{"field":"t","type":"temporal"},"y":{"field":"ls","type":"quantitative","scale":{"type":"log","domain":[0.0044,1.1575],"nice":false}}}},
 {"data":{"name":"bl"},"mark":{"type":"line","color":"#801a20","strokeWidth":1},
  "encoding":{"x":{"field":"t","type":"temporal"},"y":{"field":"p","type":"quantitative","scale":{"type":"log","domain":[0.0044,1.1575],"nice":false}}}},
 {"data":{"name":"cv"},"mark":{"type":"line","color":"#2a48a8","strokeWidth":1},
  "encoding":{"x":{"field":"t","type":"temporal"},"y":{"field":"p","type":"quantitative","scale":{"type":"log","domain":[0.0044,1.1575],"nice":false}}}},
 {"data":{"values":[{"p":0.82514,"t1":"2021-01-28","t2":"2027-04-05"},{"p":0.30016,"t1":"2021-01-28","t2":"2027-04-05"},{"p":0.02,"t1":"2022-04-10","t2":"2027-04-05"}]},
  "mark":{"type":"rule","color":"#ffeb3b","strokeWidth":2},
  "encoding":{"x":{"field":"t1","type":"temporal"},"x2":{"field":"t2"},"y":{"field":"p","type":"quantitative","scale":{"type":"log","domain":[0.0044,1.1575],"nice":false}}}},
 {"data":{"values":[{"t1":"2021-03-06","p1":0.295,"t2":"2023-03-13","p2":0.015},{"t1":"2022-03-29","p1":0.327,"t2":"2023-01-23","p2":0.0207},{"t1":"2023-12-14","p1":0.0362,"t2":"2024-11-15","p2":0.027},{"t1":"2024-03-20","p1":0.142,"t2":"2024-11-15","p2":0.0288}]},
  "mark":{"type":"rule","color":"#bfaec0","strokeWidth":1,"opacity":0.85},
  "encoding":{"x":{"field":"t1","type":"temporal"},"x2":{"field":"t2"},"y":{"field":"p1","type":"quantitative","scale":{"type":"log","domain":[0.0044,1.1575],"nice":false}},"y2":{"field":"p2"}}},
 {"data":{"values":[{"p":0.02599,"t1":"2021-01-28","t2":"2027-04-05"}]},
  "mark":{"type":"rule","color":"#f23645","strokeWidth":1,"opacity":0.45,"strokeDash":[1,2]},
  "encoding":{"x":{"field":"t1","type":"temporal"},"x2":{"field":"t2"},"y":{"field":"p","type":"quantitative","scale":{"type":"log","domain":[0.0044,1.1575],"nice":false}}}},
 {"data":{"values":[{"p":0.02207,"t1":"2025-09-26","t2":"2027-01-01"}]},
  "mark":{"type":"rule","color":"#787b86","strokeWidth":1},
  "encoding":{"x":{"field":"t1","type":"temporal"},"x2":{"field":"t2"},"y":{"field":"p","type":"quantitative","scale":{"type":"log","domain":[0.0044,1.1575],"nice":false}}}},
 {"data":{"name":"tg"},"mark":{"type":"point","shape":"M-1,-0.35H1V0.35H-1Z","size":676,"filled":true,"opacity":1},
  "encoding":{"x":{"field":"t","type":"temporal"},"y":{"field":"p","type":"quantitative","scale":{"type":"log","domain":[0.0044,1.1575],"nice":false}},
   "color":{"condition":[{"test":"datum.k == 'y'","value":"#ffeb3b"},{"test":"datum.k == 'g'","value":"#089981"},{"test":"datum.k == 'r'","value":"#f23645"}],"value":"#6a6d78"}}},
 {"data":{"values":[{"t":"2027-05-11","p":0.02599}]},"mark":{"type":"point","shape":"M-1,-0.35H1V0.88H-1Z","size":676,"filled":true,"opacity":1,"color":"#f23645"},
  "encoding":{"x":{"field":"t","type":"temporal"},"y":{"field":"p","type":"quantitative","scale":{"type":"log","domain":[0.0044,1.1575],"nice":false}}}},
 {"data":{"name":"tg"},"mark":{"type":"text","fontSize":5.5,"align":"center","baseline":"middle"},
  "encoding":{"x":{"field":"t","type":"temporal"},"y":{"field":"p","type":"quantitative","scale":{"type":"log","domain":[0.0044,1.1575],"nice":false}},"text":{"field":"s"},
   "color":{"condition":{"test":"datum.k == 'y'","value":"#131722"},"value":"#ffffff"}}},
 {"data":{"values":[{"t":"2027-05-11","p":0.02599,"s":"0.02599"}]},"mark":{"type":"text","fontSize":5.5,"align":"center","baseline":"middle","color":"#ffffff"},
  "encoding":{"x":{"field":"t","type":"temporal"},"y":{"field":"p","type":"quantitative","scale":{"type":"log","domain":[0.0044,1.1575],"nice":false}},"text":{"field":"s"}}},
 {"data":{"values":[{"t":"2027-05-11","p":0.02599,"s":"1d 11:48"}]},"mark":{"type":"text","fontSize":5.5,"align":"center","baseline":"middle","color":"#ffffff","dy":7},
  "encoding":{"x":{"field":"t","type":"temporal"},"y":{"field":"p","type":"quantitative","scale":{"type":"log","domain":[0.0044,1.1575],"nice":false}},"text":{"field":"s"}}},
 {"data":{"values":[{"t":"2027-05-10","p":1.054}]},"mark":{"type":"point","shape":"M-1,-0.5H1V0.5H-1Z","size":484,"filled":false,"color":"#434651","strokeWidth":1,"opacity":1},
  "encoding":{"x":{"field":"t","type":"temporal"},"y":{"field":"p","type":"quantitative","scale":{"type":"log","domain":[0.0044,1.1575],"nice":false}}}},
 {"data":{"values":[{"t":"2027-05-10","p":1.054,"s":"USDT"}]},"mark":{"type":"text","fontSize":5.5,"align":"center","baseline":"middle","color":"#d1d4dc"},
  "encoding":{"x":{"field":"t","type":"temporal"},"y":{"field":"p","type":"quantitative","scale":{"type":"log","domain":[0.0044,1.1575],"nice":false}},"text":{"field":"s"}}},
 {"data":{"values":[{"t":"2021-02-04","p":1.063,"s":"SKL / TetherUS · 1W · Binance"}]},"mark":{"type":"text","fontSize":5.5,"align":"left","baseline":"middle","color":"#d1d4dc"},
  "encoding":{"x":{"field":"t","type":"temporal"},"y":{"field":"p","type":"quantitative","scale":{"type":"log","domain":[0.0044,1.1575],"nice":false}},"text":{"field":"s"}}}
]}
]
}
